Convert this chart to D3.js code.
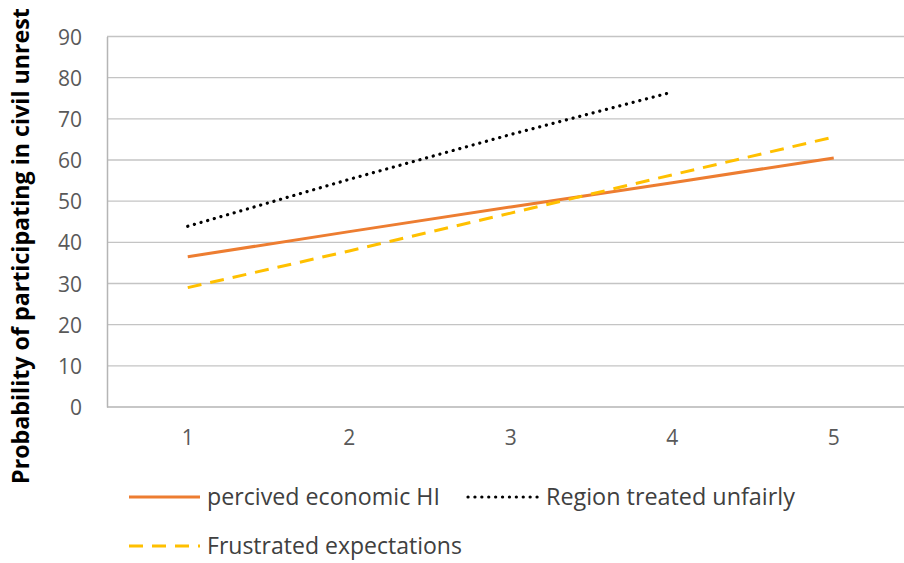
<!DOCTYPE html>
<html>
<head>
<meta charset="utf-8">
<script src="https://cdn.jsdelivr.net/npm/d3@7"></script>
<style>
  html, body { margin: 0; padding: 0; background: #fff; }
  svg { display: block; }
  text { font-family: "Open Sans", Lato, sans-serif; }
</style>
</head>
<body>
<svg id="chart" width="904" height="563"></svg>
<script>
// Category positions on the horizontal axis
const categories = [1, 2, 3, 4, 5];

// Predicted probability (%) for each series
const economicHI = [36.5, 42.6, 48.6, 54.5, 60.5];
const regionUnfair = [43.9, 55.3, 66.2, 76.5];
const frustrated = [29.0, 37.9, 47.1, 56.4, 65.6];

const yTicks = [0, 10, 20, 30, 40, 50, 60, 70, 80, 90];

const seriesNames = ["percived economic HI", "Region treated unfairly", "Frustrated expectations"];

const svg = d3.select("#chart");

const plotLeft = 107, plotTop = 36.5, plotBottom = 407, plotRight = 914.5;

const x = d3.scaleBand().domain(categories).range([plotLeft, plotRight]).padding(0);
const y = d3.scaleLinear().domain([0, 90]).range([plotBottom, plotTop]);
const cx = d => x(d) + x.bandwidth() / 2;

// Shrink or grow a text node's font so its rendered width matches `width`
function fitWidth(sel, width) {
  sel.each(function () {
    const node = this;
    const fs = parseFloat(node.getAttribute("font-size"));
    const w = node.getComputedTextLength();
    if (w > 0) node.setAttribute("font-size", (fs * width / w).toFixed(2));
  });
}

// Horizontal gridlines
svg.append("g")
  .selectAll("line")
  .data(yTicks.filter(t => t > 0))
  .join("line")
  .attr("x1", plotLeft).attr("x2", 904)
  .attr("y1", d => y(d)).attr("y2", d => y(d))
  .attr("stroke", "#c4c4c4").attr("stroke-width", 1.3);

// Y axis
const yAxis = svg.append("g")
  .attr("transform", `translate(${plotLeft},0)`)
  .call(d3.axisLeft(y).tickValues(yTicks).tickSize(0).tickPadding(25));
yAxis.select(".domain").attr("stroke", "#b5b5b5").attr("stroke-width", 1.5);
yAxis.selectAll("text").attr("fill", "#595959").attr("font-size", 21).attr("dy", "0.36em");

// X axis
const xAxis = svg.append("g")
  .attr("transform", `translate(0,${plotBottom})`)
  .call(d3.axisBottom(x).tickSize(0).tickPadding(23));
xAxis.select(".domain").attr("d", `M${plotLeft},0H904`).attr("stroke", "#b5b5b5").attr("stroke-width", 1.5);
xAxis.selectAll("text").attr("fill", "#595959").attr("font-size", 21);

// Y axis title
const title = svg.append("text")
  .attr("transform", `translate(29,${(8 + 484) / 2}) rotate(-90)`)
  .attr("text-anchor", "middle")
  .attr("font-weight", "bold")
  .attr("font-size", 20)
  .attr("fill", "#000")
  .text("Probability of participating in civil unrest");
fitWidth(title, 476);

const line = d3.line().x((d, i) => cx(categories[i])).y(d => y(d));

const styles = [
  { data: economicHI, stroke: "#ED7D31", dash: null, cap: "butt" },
  { data: regionUnfair, stroke: "#000000", dash: "0.1 6.8", cap: "round" },
  { data: frustrated, stroke: "#FFC000", dash: "14 9", cap: "butt" }
];

// Series lines
svg.append("g")
  .selectAll("path")
  .data(styles)
  .join("path")
  .attr("d", s => line(s.data))
  .attr("fill", "none")
  .attr("stroke", s => s.stroke)
  .attr("stroke-width", s => s.cap === "round" ? 3.2 : 3)
  .attr("stroke-linecap", s => s.cap)
  .attr("stroke-dasharray", s => s.dash);

// Legend
const legendItems = [
  { name: seriesNames[0], style: styles[0], x: 129, y: 497, w: 233 },
  { name: seriesNames[1], style: styles[1], x: 468, y: 497, w: 249 },
  { name: seriesNames[2], style: styles[2], x: 129, y: 546, w: 255 }
];
const lg = svg.append("g")
  .selectAll("g")
  .data(legendItems)
  .join("g")
  .attr("transform", d => `translate(${d.x},${d.y})`);
lg.append("line")
  .attr("x1", 0).attr("x2", 71).attr("y1", 0).attr("y2", 0)
  .attr("stroke", d => d.style.stroke)
  .attr("stroke-width", d => d.style.cap === "round" ? 3.2 : 3)
  .attr("stroke-linecap", d => d.style.cap)
  .attr("stroke-dasharray", d => d.style.dash);
lg.append("text")
  .attr("x", 78).attr("y", 0).attr("dy", "0.36em")
  .attr("font-size", 20)
  .attr("fill", "#404040")
  .text(d => d.name)
  .each(function (d) { fitWidth(d3.select(this), d.w); });
</script>
</body>
</html>
